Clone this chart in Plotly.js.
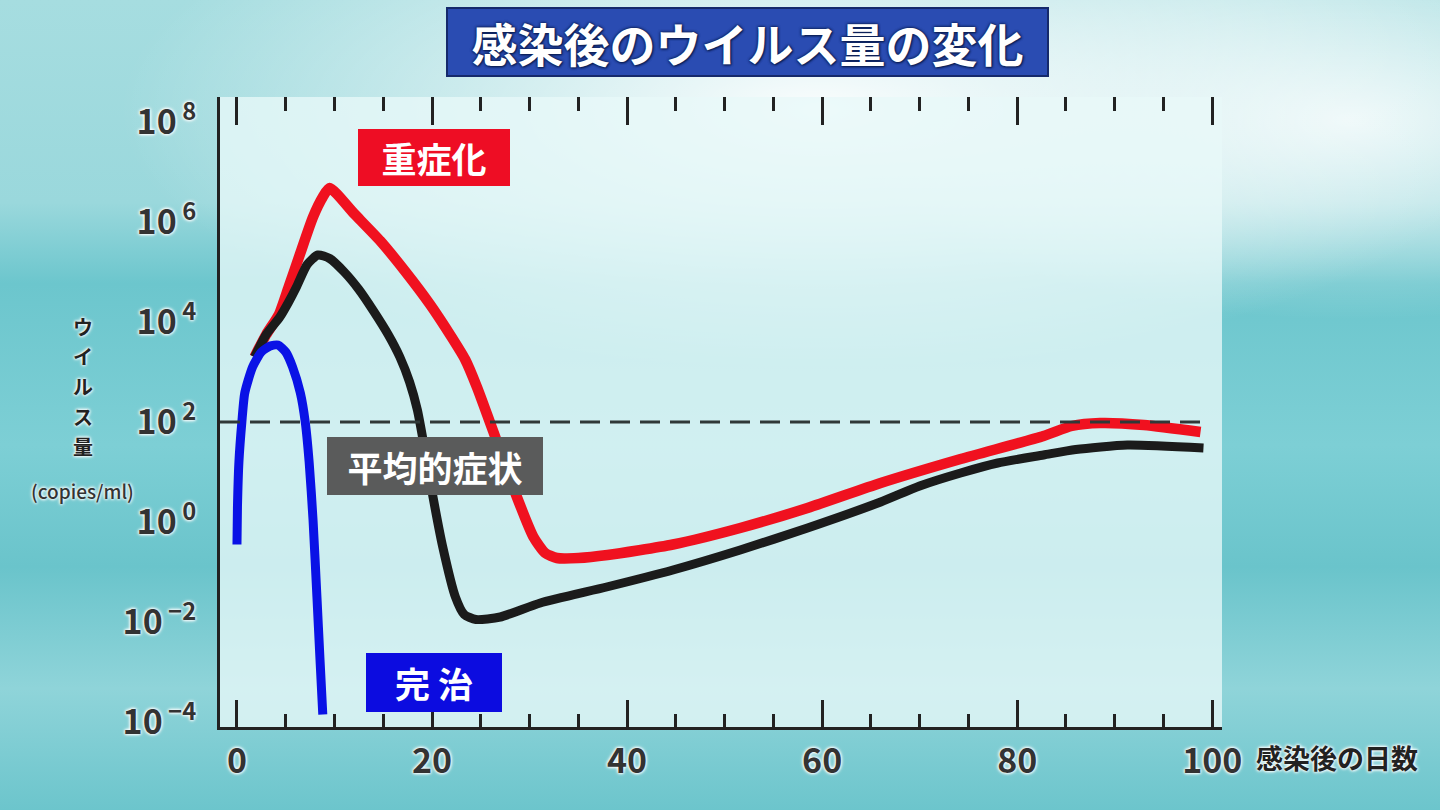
<!DOCTYPE html>
<html>
<head>
<meta charset="utf-8">
<script src="https://cdn.plot.ly/plotly-3.0.1.min.js"></script>
<style>
  html, body { margin: 0; padding: 0; width: 1440px; height: 810px; overflow: hidden; }
  body {
    background:
      radial-gradient(ellipse 700px 260px at 820px 110px, rgba(255,255,255,0.95), rgba(255,255,255,0) 100%),
      radial-gradient(ellipse 500px 200px at 1350px 120px, rgba(255,255,255,0.8), rgba(255,255,255,0) 100%),
      linear-gradient(180deg, #a6dde0 0%, #9ad8dc 25%, #6cc6cd 35%, #7dcfd5 55%, #6ac4cb 70%, #8fd4d9 85%, #6cc5cc 100%);
  }
  #chart { width: 1440px; height: 810px; }
</style>
</head>
<body>
<div id="chart"></div>
<script>
// Days after infection and log10 viral load (copies/ml)
const severeDays = [1.8, 3.0, 4.3, 5.3, 6.5, 7.8, 8.8, 9.5, 12.0, 14.7, 17.3, 19.8, 22.0, 23.4, 24.6, 26.3, 28.7, 30.4, 31.6, 32.8, 35.0, 38.0, 44.7, 51.6, 58.5, 66.0, 74.2, 82.7, 85.6, 88.5, 93.0, 98.8];
const severeLog  = [3.3, 3.75, 4.15, 4.7, 5.38, 6.1, 6.5, 6.68, 6.17, 5.62, 5.0, 4.35, 3.7, 3.25, 2.7, 1.8, 0.5, -0.3, -0.62, -0.72, -0.72, -0.66, -0.45, -0.12, 0.28, 0.78, 1.26, 1.72, 1.92, 1.98, 1.94, 1.8];

const averageDays = [1.8, 3.0, 4.4, 5.3, 6.1, 7.2, 8.3, 9.5, 11.0, 12.5, 14.0, 15.5, 16.7, 17.7, 18.5, 19.3, 20.1, 21.1, 22.4, 23.3, 24.5, 27.0, 31.1, 37.9, 44.7, 51.6, 58.5, 66.0, 70.0, 74.2, 78.0, 82.7, 86.0, 91.3, 99.1];
const averageLog  = [3.3, 3.75, 4.1, 4.4, 4.7, 5.15, 5.34, 5.27, 5.0, 4.65, 4.22, 3.75, 3.3, 2.8, 2.24, 1.4, 0.5, -0.5, -1.5, -1.85, -1.95, -1.9, -1.62, -1.3, -0.96, -0.56, -0.12, 0.4, 0.72, 0.98, 1.18, 1.34, 1.45, 1.54, 1.48];

const curedDays = [0, 0.05, 0.2, 0.5, 0.8, 1.6, 2.5, 3.4, 4.2, 5.0, 5.7, 6.5, 7.0, 7.4, 7.8, 8.2, 8.5, 8.8];
const curedLog  = [-0.45, 0.3, 1.2, 2.0, 2.58, 3.1, 3.4, 3.52, 3.54, 3.4, 3.1, 2.58, 2.0, 1.2, 0.04, -1.5, -2.7, -3.85];

const thresholdDays = [-1.74, 99];
const thresholdLoad = [100, 100];

const yTickVals = [1e-4, 1e-2, 1, 1e2, 1e4, 1e6, 1e8];
const yTickText = ['10<sup> −4</sup>', '10<sup> −2</sup>', '10<sup> 0</sup>', '10<sup> 2</sup>', '10<sup> 4</sup>', '10<sup> 6</sup>', '10<sup> 8</sup>'];

const seriesNames = ['重症化', '平均的症状', '完治'];
const chartTitle = '感染後のウイルス量の変化';
const xTitle = '感染後の日数';
const yTitle = 'ウイルス量';
const yUnit = '(copies/ml)';

const toLoad = arr => arr.map(v => Math.pow(10, v));

const FONT = '"Noto Sans CJK JP", "Noto Sans", sans-serif';
const whiteHalo = '0 0 3px #ffffff, 0 0 3px #ffffff, 0 0 4px #ffffff';

const traces = [
  { x: thresholdDays, y: thresholdLoad, xaxis: 'x2', yaxis: 'y', mode: 'lines',
    line: { color: '#2f3838', width: 3, dash: '20px,10px' }, hoverinfo: 'skip', showlegend: false },
  { x: severeDays, y: toLoad(severeLog), name: seriesNames[0], mode: 'lines',
    line: { color: '#f0111f', width: 10.5, shape: 'spline', smoothing: 0.6 }, hoverinfo: 'skip', showlegend: false },
  { x: averageDays, y: toLoad(averageLog), name: seriesNames[1], mode: 'lines',
    line: { color: '#1b1b1b', width: 9, shape: 'spline', smoothing: 0.6 }, hoverinfo: 'skip', showlegend: false },
  { x: curedDays, y: toLoad(curedLog), name: seriesNames[2], mode: 'lines',
    line: { color: '#0a12e6', width: 9, shape: 'spline', smoothing: 0.6 }, hoverinfo: 'skip', showlegend: false }
];

const xRange = [-1.74, 101.0];
// pixel -> paper helpers for the label boxes (plot area spans 220..1222 x 97..727)
const px = v => (v - 220) / 1002;
const py = v => (727 - v) / 630;

function label(text, cx, cy, w, h, bg, size) {
  return { xref: 'paper', yref: 'paper', x: px(cx), y: py(cy), xanchor: 'center', yanchor: 'middle',
    text: text, showarrow: false, width: w, height: h, bgcolor: bg, borderwidth: 0,
    font: { family: FONT, size: size, color: '#ffffff', weight: 700 } };
}

const annotations = [
  { xref: 'paper', yref: 'paper', x: px(747), y: py(42), xanchor: 'center', yanchor: 'middle',
    text: chartTitle, showarrow: false, width: 597, height: 64,
    bgcolor: '#2a4cb2', bordercolor: '#15296b', borderwidth: 2,
    font: { family: FONT, size: 46, color: '#ffffff', weight: 700,
            shadow: '0 0 3px #0c1f55, 0 0 3px #0c1f55, 1px 1px 2px #0c1f55' } },
  label(seriesNames[0], 434, 157, 150, 55, '#ee0d24', 35),
  label(seriesNames[1], 435, 466, 214, 56, '#5a5b5b', 35),
  label('完 治', 434, 682, 134, 57, '#0c0ce0', 35),
  { xref: 'paper', yref: 'paper', x: px(1337), y: py(757), xanchor: 'center', yanchor: 'middle',
    text: xTitle, showarrow: false,
    font: { family: FONT, size: 27, color: '#222', weight: 700, shadow: whiteHalo } },
  { xref: 'paper', yref: 'paper', x: px(82), y: py(490), xanchor: 'center', yanchor: 'middle',
    text: yUnit, showarrow: false,
    font: { family: FONT, size: 19, color: '#333', weight: 500, shadow: whiteHalo } }
];
// vertical (stacked) y-axis title, one character per row
yTitle.split('').forEach((ch, i) => {
  annotations.push({ xref: 'paper', yref: 'paper', x: px(83), y: py(326 + i * 30),
    xanchor: 'center', yanchor: 'middle', text: ch, showarrow: false,
    borderpad: 0,
    font: { family: FONT, size: 20, color: '#222', weight: 700, shadow: whiteHalo } });
});

const layout = {
  width: 1440, height: 810,
  margin: { l: 220, r: 218, t: 97, b: 83 },
  paper_bgcolor: 'rgba(0,0,0,0)',
  plot_bgcolor: 'rgba(232,249,249,0.78)',
  showlegend: false,
  font: { family: FONT },
  xaxis: {
    range: xRange, tickmode: 'linear', tick0: 0, dtick: 20,
    ticks: 'inside', ticklen: 27, tickwidth: 3, tickcolor: '#222',
    showline: true, linewidth: 3, linecolor: '#222',
    showgrid: false, zeroline: false,
    minor: { tickmode: 'linear', tick0: 0, dtick: 5, ticks: 'inside', ticklen: 13, tickwidth: 3, tickcolor: '#222', showgrid: false },
    tickfont: { family: FONT, size: 34, color: '#333', weight: 700, shadow: whiteHalo },
    ticklabelstandoff: 2
  },
  xaxis2: {
    overlaying: 'x', side: 'top', anchor: 'y',
    range: xRange, tickmode: 'linear', tick0: 0, dtick: 20,
    ticks: 'inside', ticklen: 28, tickwidth: 3, tickcolor: '#222',
    showline: false, showgrid: false, zeroline: false, showticklabels: false,
    minor: { tickmode: 'linear', tick0: 0, dtick: 5, ticks: 'inside', ticklen: 14, tickwidth: 3, tickcolor: '#222', showgrid: false }
  },
  yaxis: {
    type: 'log', range: [-4.1, 8.5],
    tickmode: 'array', tickvals: yTickVals, ticktext: yTickText,
    ticks: '', showline: true, linewidth: 3, linecolor: '#222',
    showgrid: false, zeroline: false,
    tickfont: { family: FONT, size: 34, color: '#333', weight: 700, shadow: whiteHalo },
    ticklabelstandoff: 14
  },
  annotations: annotations
};

Plotly.newPlot('chart', traces, layout, { displayModeBar: false, staticPlot: true });
</script>
</body>
</html>
